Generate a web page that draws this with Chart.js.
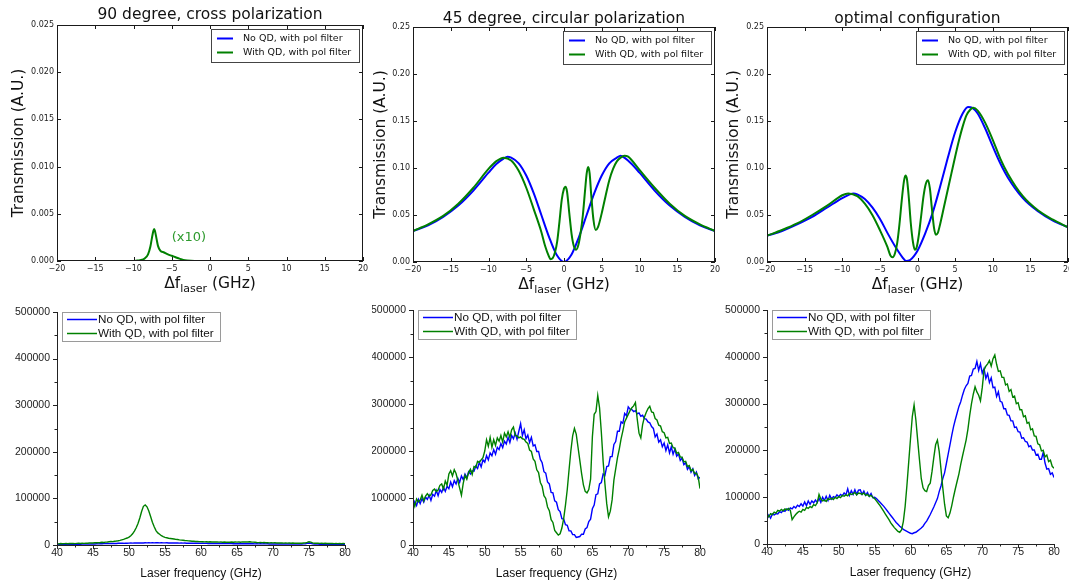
<!DOCTYPE html>
<html><head><meta charset="utf-8">
<script src="https://cdn.jsdelivr.net/npm/chart.js@4/dist/chart.umd.min.js"></script>
<style>
html,body{margin:0;padding:0;background:#fff;}
body{width:1069px;height:581px;position:relative;overflow:hidden;}
canvas{position:absolute;}
</style></head><body>
<canvas id="cA"></canvas><canvas id="cB"></canvas><canvas id="cC"></canvas>
<canvas id="cD"></canvas><canvas id="cE"></canvas><canvas id="cF"></canvas>
<script>
// ---------------- DATA ----------------
const legendLabels = ['No QD, with pol filter', 'With QD, with pol filter'];
const panelTitles = ['90 degree, cross polarization', '45 degree, circular polarization', 'optimal configuration'];

// Top-left: 90 degree (theory)
const cross_noQD_x = [-20, 20];
const cross_noQD_y = [0, 0];
const cross_QD_x = [-20, -10, -9.5, -9, -8.5, -8.1, -7.8, -7.6, -7.4, -7.3, -7.2, -7.0, -6.8, -6.5, -6, -5.5, -5, -4.5, -4, -3.5, -3, -2, 20];
const cross_QD_y = [0, 0, 0.00005, 0.0001, 0.0003, 0.0007, 0.0015, 0.0024, 0.0032, 0.0034, 0.0032, 0.0024, 0.0016, 0.0011, 0.0009, 0.0007, 0.00055, 0.0004, 0.00025, 0.00012, 0.00005, 0, 0];

// Top-middle: 45 degree (theory)
const circ_noQD_x = [-20, -18, -16, -14, -12, -10, -9, -8, -7.5, -7, -6, -5, -4, -3, -2, -1, 0, 1, 2, 3, 4, 5, 6, 7, 7.5, 8, 9, 10, 12, 14, 16, 18, 20];
const circ_noQD_y = [0.033, 0.039, 0.048, 0.060, 0.076, 0.095, 0.104, 0.110, 0.112, 0.111, 0.105, 0.092, 0.073, 0.050, 0.027, 0.008, 0.000, 0.008, 0.027, 0.050, 0.073, 0.092, 0.105, 0.111, 0.113, 0.111, 0.104, 0.095, 0.076, 0.060, 0.048, 0.039, 0.033];
const circ_QD_x = [-20, -18, -16, -14, -12, -10, -9, -8, -7, -6, -5, -4, -3, -2.5, -2, -1.8, -1.5, -1.2, -0.9, -0.6, -0.3, 0, 0.2, 0.4, 0.7, 1.0, 1.3, 1.6, 1.9, 2.2, 2.5, 2.8, 3.0, 3.2, 3.4, 3.6, 3.9, 4.2, 4.5, 5, 5.5, 6, 6.5, 7, 7.5, 8, 8.5, 9, 10, 12, 14, 16, 18, 20];
const circ_QD_y = [0.033, 0.040, 0.049, 0.062, 0.079, 0.099, 0.107, 0.111, 0.108, 0.097, 0.079, 0.056, 0.032, 0.017, 0.006, 0.003, 0.004, 0.010, 0.022, 0.043, 0.066, 0.078, 0.080, 0.075, 0.052, 0.030, 0.017, 0.013, 0.018, 0.031, 0.050, 0.077, 0.094, 0.101, 0.094, 0.072, 0.045, 0.034, 0.037, 0.052, 0.070, 0.087, 0.099, 0.107, 0.111, 0.113, 0.112, 0.108, 0.098, 0.079, 0.062, 0.049, 0.040, 0.033];

// Top-right: optimal (theory)
const opt_noQD_x = [-20, -18, -16, -14, -12, -10, -9, -8.5, -8, -7, -6, -5, -4, -3, -2, -1.5, -1, -0.5, 0, 1, 2, 3, 4, 5, 6, 6.7, 7.3, 8, 9, 10, 11, 12, 14, 16, 18, 20];
const opt_noQD_y = [0.028, 0.033, 0.040, 0.048, 0.058, 0.068, 0.072, 0.073, 0.072, 0.067, 0.058, 0.046, 0.031, 0.017, 0.005, 0.001, 0.002, 0.006, 0.012, 0.030, 0.052, 0.080, 0.110, 0.138, 0.158, 0.165, 0.164, 0.158, 0.142, 0.123, 0.105, 0.090, 0.068, 0.054, 0.044, 0.037];
const opt_QD_x = [-20, -18, -16, -14, -12, -10, -9.2, -8, -7, -6, -5, -4, -3.6, -3.3, -3.0, -2.7, -2.4, -2.1, -1.8, -1.6, -1.4, -1.15, -0.9, -0.6, -0.35, -0.1, 0.2, 0.5, 0.8, 1.1, 1.4, 1.65, 1.9, 2.2, 2.45, 2.7, 3.0, 3.5, 4, 4.5, 5, 5.5, 6, 6.5, 7, 7.4, 8, 9, 10, 11, 12, 14, 16, 18, 20];
const opt_QD_y = [0.028, 0.034, 0.041, 0.050, 0.060, 0.071, 0.073, 0.070, 0.062, 0.050, 0.034, 0.016, 0.007, 0.005, 0.009, 0.020, 0.040, 0.065, 0.086, 0.092, 0.088, 0.068, 0.042, 0.021, 0.013, 0.016, 0.030, 0.050, 0.070, 0.083, 0.087, 0.078, 0.058, 0.036, 0.029, 0.031, 0.040, 0.058, 0.076, 0.094, 0.112, 0.129, 0.144, 0.156, 0.162, 0.164, 0.161, 0.148, 0.130, 0.110, 0.094, 0.070, 0.055, 0.045, 0.037];

// Bottom row: measured, laser frequency grid (GHz)
const laserFreqGHz = [
40,40.25,40.5,40.75,41,41.25,41.5,41.75,42,42.25,42.5,42.75,43,43.25,43.5,43.75,44,44.25,44.5,44.75,
45,45.25,45.5,45.75,46,46.25,46.5,46.75,47,47.25,47.5,47.75,48,48.25,48.5,48.75,49,49.25,49.5,49.75,
50,50.25,50.5,50.75,51,51.25,51.5,51.75,52,52.25,52.5,52.75,53,53.25,53.5,53.75,54,54.25,54.5,54.75,
55,55.25,55.5,55.75,56,56.25,56.5,56.75,57,57.25,57.5,57.75,58,58.25,58.5,58.75,59,59.25,59.5,59.75,
60,60.25,60.5,60.75,61,61.25,61.5,61.75,62,62.25,62.5,62.75,63,63.25,63.5,63.75,64,64.25,64.5,64.75,
65,65.25,65.5,65.75,66,66.25,66.5,66.75,67,67.25,67.5,67.75,68,68.25,68.5,68.75,69,69.25,69.5,69.75,
70,70.25,70.5,70.75,71,71.25,71.5,71.75,72,72.25,72.5,72.75,73,73.25,73.5,73.75,74,74.25,74.5,74.75,
75,75.25,75.5,75.75,76,76.25,76.5,76.75,77,77.25,77.5,77.75,78,78.25,78.5,78.75,79,79.25,79.5,79.75,
80];

const meas90_noQD = [
1e3,1.2e3,0.9e3,1.1e3, 1.2e3,1e3,1.3e3,1.1e3, 1.3e3,1.5e3,1.2e3,1.6e3, 1.7e3,1.5e3,1.9e3,1.8e3, 2e3,2.2e3,1.9e3,2.3e3,
2.4e3,2.2e3,2.6e3,2.5e3, 2.8e3,2.6e3,3e3,2.9e3, 3.1e3,3e3,3.3e3,3.2e3, 3.5e3,3.3e3,3.7e3,3.6e3, 3.8e3,3.6e3,4e3,3.9e3,
4.1e3,4.3e3,4e3,4.4e3, 4.2e3,4.5e3,4.3e3,4.6e3, 4.4e3,4.7e3,4.5e3,4.8e3, 4.6e3,4.9e3,4.5e3,4.8e3, 4.7e3,4.5e3,4.8e3,4.6e3,
4.5e3,4.7e3,4.4e3,4.6e3, 4.3e3,4.5e3,4.2e3,4.4e3, 4.1e3,4.3e3,4e3,4.2e3, 3.9e3,4.1e3,3.8e3,4e3, 3.7e3,3.9e3,3.6e3,3.8e3,
3.5e3,3.7e3,3.4e3,3.6e3, 3.3e3,3.5e3,3.2e3,3.4e3, 3.2e3,3.4e3,3.1e3,3.3e3, 3e3,3.2e3,2.9e3,3.1e3, 2.9e3,3.1e3,2.8e3,3e3,
2.8e3,3e3,2.7e3,2.9e3, 2.7e3,2.9e3,2.6e3,2.8e3, 2.6e3,2.8e3,2.5e3,2.7e3, 2.5e3,2.7e3,2.4e3,2.6e3, 2.4e3,2.6e3,2.3e3,2.5e3,
2.3e3,2.5e3,2.2e3,2.4e3, 2.2e3,2.4e3,2.1e3,2.3e3, 2.1e3,2.3e3,2e3,2.2e3, 2e3,2.2e3,1.9e3,2.1e3, 2e3,2.3e3,2.8e3,3.5e3,
4.2e3,3.6e3,2.6e3,2e3, 1.8e3,2e3,1.7e3,1.9e3, 1.6e3,1.8e3,1.5e3,1.7e3, 1.4e3,1.6e3,1.3e3,1.5e3, 1.2e3,1.4e3,1.1e3,1.3e3,
1.1e3];
const meas90_QD = [
3e3,2.5e3,3.2e3,2.8e3, 3e3,3.3e3,2.7e3,3.1e3, 3.2e3,3.5e3,3e3,3.4e3, 3.6e3,3.2e3,3.8e3,3.5e3, 4e3,3.7e3,4.2e3,4.5e3,
4.3e3,4.8e3,5.1e3,4.9e3, 5.3e3,5.8e3,5.5e3,6.2e3, 6.5e3,7e3,7.4e3,7.2e3, 8e3,8.5e3,9.2e3,10e3, 11e3,12e3,13.5e3,15e3,
17e3,20e3,24e3,30e3, 37e3,46e3,58e3,72e3, 83e3,86e3,82e3,73e3, 61e3,49e3,39e3,31e3, 26e3,23e3,20e3,18e3,
16.5e3,15.5e3,14.5e3,14e3, 13.5e3,12.8e3,12e3,11.8e3, 11e3,10.5e3,10.3e3,9.6e3, 9.4e3,8.8e3,8.6e3,8.2e3, 8e3,7.6e3,7.8e3,7.2e3,
7e3,7.3e3,6.8e3,7.1e3, 6.6e3,6.9e3,6.4e3,6.7e3, 6.3e3,6.6e3,6.1e3,6.4e3, 6e3,6.3e3,5.8e3,6.2e3, 6e3,6.4e3,5.9e3,6.3e3,
6.1e3,6.5e3,6e3,6.6e3, 6.3e3,6.8e3,6.4e3,6.9e3, 6.5e3,6.2e3,5.8e3,5.4e3, 5.2e3,5.6e3,5e3,5.3e3, 4.8e3,5.1e3,4.6e3,4.9e3,
4.5e3,4.7e3,4.3e3,4.6e3, 4.2e3,4.5e3,4e3,4.3e3, 4e3,4.3e3,3.9e3,4.2e3, 3.8e3,4.1e3,3.7e3,4e3, 3.8e3,4.2e3,4.5e3,5.5e3,
7e3,6.2e3,4.5e3,3.8e3, 3.6e3,3.9e3,3.4e3,3.7e3, 3.3e3,3.6e3,3.2e3,3.5e3, 3.1e3,3.4e3,3e3,3.3e3, 3e3,3.2e3,2.8e3,3.1e3,
2.9e3];

const meas45_noQD = [
80e3,92e3,84e3,97e3, 88e3,99e3,91e3,102e3, 97e3,106e3,95e3,108e3, 104e3,116e3,105e3,118e3, 112e3,123e3,114e3,125e3,
120e3,134e3,124e3,137e3, 130e3,142e3,133e3,147e3, 139e3,151e3,143e3,156e3, 151e3,158e3,157e3,168e3, 163e3,176e3,166e3,181e3,
176e3,190e3,181e3,196e3, 190e3,203e3,193e3,208e3, 203e3,216e3,207e3,221e3, 215e3,229e3,218e3,233e3, 226e3,238e3,225e3,242e3,
258e3,233e3,245e3,226e3, 234e3,218e3,229e3,211e3, 213e3,199e3,199e3,182e3, 175e3,156e3,153e3,134e3, 130e3,112e3,111e3,94e3,
91e3,75e3,71e3,56e3, 55e3,43e3,42e3,30e3, 30e3,22e3,22e3,16e3, 17e3,18e3,23e3,23e3, 34e3,37e3,50e3,55e3,
77e3,85e3,107e3,109e3, 130e3,133e3,151e3,148e3, 167e3,168e3,188e3,188e3, 214e3,220e3,242e3,242e3, 262e3,259e3,280e3,275e3,
294e3,289e3,288e3,284e3, 286e3,279e3,281e3,274e3, 276e3,269e3,268e3,262e3, 260e3,252e3,248e3,230e3, 236e3,219e3,224e3,209e3,
217e3,201e3,213e3,196e3, 209e3,193e3,204e3,189e3, 194e3,180e3,185e3,171e3, 175e3,161e3,167e3,155e3, 162e3,148e3,155e3,141e3,
144e3];
const meas45_QD = [
94e3,82e3,98e3,92e3, 96e3,106e3,94e3,104e3, 109e3,104e3,107e3,116e3, 119e3,114e3,117e3,127e3, 130e3,119e3,136e3,127e3,
151e3,158e3,147e3,160e3, 152e3,137e3,121e3,106e3, 131e3,148e3,140e3,154e3, 161e3,150e3,167e3,165e3, 178e3,176e3,181e3,186e3,
200e3,224e3,210e3,229e3, 208e3,224e3,212e3,228e3, 221e3,233e3,219e3,238e3, 230e3,241e3,229e3,245e3, 251e3,233e3,232e3,228e3,
230e3,226e3,225e3,219e3, 216e3,202e3,199e3,183e3, 178e3,160e3,154e3,133e3, 125e3,105e3,99e3,81e3, 73e3,54e3,48e3,31e3,
26e3,21e3,24e3,36e3, 56e3,85e3,118e3,160e3, 200e3,232e3,248e3,236e3, 208e3,180e3,152e3,128e3, 114e3,111e3,118e3,140e3,
230e3,278e3,284e3,318e3, 292e3,240e3,178e3,130e3, 88e3,60e3,72e3,96e3, 138e3,162e3,186e3,204e3, 226e3,243e3,262e3,270e3,
278e3,286e3,292e3,296e3, 303e3,268e3,238e3,228e3, 256e3,272e3,282e3,290e3, 295e3,283e3,282e3,269e3, 266e3,255e3,253e3,241e3,
239e3,228e3,229e3,216e3, 217e3,207e3,206e3,195e3, 197e3,187e3,187e3,177e3, 178e3,167e3,169e3,158e3, 161e3,152e3,153e3,145e3,
120e3];

const measOpt_noQD = [
53e3,62e3,55e3,64e3, 62e3,65e3,64e3,69e3, 67e3,72e3,70e3,75e3, 72e3,77e3,75e3,80e3, 77e3,83e3,80e3,86e3,
81e3,90e3,82e3,92e3, 85e3,92e3,88e3,94e3, 89e3,98e3,89e3,100e3, 93e3,102e3,93e3,104e3, 96e3,101e3,99e3,105e3,
101e3,106e3,103e3,109e3, 105e3,118e3,104e3,114e3, 106e3,116e3,106e3,115e3, 116e3,106e3,113e3,104e3, 110e3,102e3,108e3,99e3,
100e3,97e3,93e3,89e3, 85e3,81e3,76e3,71e3, 66e3,61e3,56e3,51e3, 46e3,42e3,38e3,35e3, 31e3,29e3,27e3,25e3,
23e3,22e3,24e3,25e3, 28e3,31e3,34e3,38e3, 44e3,49e3,56e3,63e3, 71e3,79e3,88e3,97e3, 112e3,124e3,140e3,152e3,
172e3,192e3,212e3,232e3, 251e3,266e3,280e3,294e3, 304e3,318e3,330e3,338e3, 343e3,359e3,360e3,374e3, 375e3,390e3,371e3,385e3,
365e3,375e3,354e3,364e3, 345e3,355e3,334e3,335e3, 315e3,325e3,305e3,303e3, 289e3,289e3,276e3,275e3, 263e3,263e3,249e3,250e3,
240e3,239e3,226e3,227e3, 219e3,218e3,208e3,210e3, 201e3,201e3,190e3,192e3, 181e3,181e3,196e3,173e3, 160e3,161e3,149e3,152e3,
142e3];
const measOpt_QD = [
62e3,58e3,65e3,63e3, 68e3,66e3,72e3,70e3, 74e3,71e3,75e3,73e3, 76e3,72e3,52e3,58e3, 63e3,67e3,70e3,68e3,
74e3,72e3,78e3,76e3, 80e3,78e3,84e3,82e3, 88e3,106e3,96e3,92e3, 94e3,91e3,97e3,95e3, 98e3,95e3,100e3,97e3,
101e3,99e3,104e3,102e3, 105e3,103e3,108e3,106e3, 107e3,110e3,105e3,109e3, 108e3,106e3,109e3,104e3, 106e3,102e3,104e3,100e3,
97e3,92e3,87e3,82e3, 76e3,70e3,64e3,58e3, 52e3,45e3,40e3,35e3, 31e3,27e3,25e3,30e3, 48e3,80e3,125e3,175e3,
225e3,272e3,297e3,265e3, 222e3,180e3,140e3,120e3, 114e3,112e3,125e3,130e3, 155e3,185e3,212e3,222e3, 198e3,160e3,120e3,85e3,
60e3,56e3,66e3,82e3, 101e3,118e3,134e3,150e3, 170e3,188e3,205e3,222e3, 245e3,275e3,300e3,320e3, 336e3,325e3,318e3,306e3,
334e3,372e3,380e3,385e3, 392e3,380e3,396e3,404e3, 384e3,369e3,370e3,356e3, 356e3,340e3,342e3,326e3, 330e3,314e3,316e3,300e3,
302e3,287e3,287e3,272e3, 274e3,258e3,260e3,244e3, 246e3,231e3,230e3,214e3, 212e3,199e3,200e3,186e3, 190e3,176e3,179e3,166e3,
162e3];

// ---------------- RENDERING ----------------
const BLUE = '#0000ff', GREEN = '#008000';
const zip = (xs, ys) => xs.map((x, i) => ({x: x, y: ys[i]}));
const uminus = v => (v < 0 ? '\u2212' + Math.abs(v) : String(v));

const decor = {
  id: 'decor',
  afterDraw(chart, args, o) {
    const ctx = chart.ctx, a = chart.chartArea, xs = chart.scales.x, ys = chart.scales.y;
    const L = Math.round(a.left), R = Math.round(a.right), T = Math.round(a.top), B = Math.round(a.bottom);
    const seg = (x1, y1, x2, y2) => { ctx.beginPath(); ctx.moveTo(x1, y1); ctx.lineTo(x2, y2); ctx.stroke(); };
    ctx.save();
    if (o.style === 'mpl') {
      ctx.strokeStyle = '#1a1a1a'; ctx.lineWidth = 1;
      ctx.strokeRect(L + 0.5, T + 0.5, R - L - 1, B - T - 1);
      xs.ticks.forEach(t => { const p = Math.round(xs.getPixelForValue(t.value)) + 0.5; seg(p, B, p, B - 4); seg(p, T, p, T + 4); });
      ys.ticks.forEach(t => { const p = Math.round(ys.getPixelForValue(t.value)) + 0.5; seg(L, p, L + 4, p); seg(R, p, R - 4, p); });
      ctx.fillStyle = '#111'; ctx.font = '15.5px "DejaVu Sans"'; ctx.textAlign = 'center'; ctx.textBaseline = 'middle';
      ctx.fillText(o.title, (L + R) / 2, T + o.titleDy);
      ctx.save(); ctx.translate(L + o.ylabelDx, (T + B) / 2); ctx.rotate(-Math.PI / 2);
      ctx.fillText('Transmission (A.U.)', 0, 0); ctx.restore();
      const f1 = '15.5px "DejaVu Sans"', f2 = '11px "DejaVu Sans"';
      ctx.font = f1; const w1 = ctx.measureText('\u0394f').width, w3 = ctx.measureText(' (GHz)').width;
      ctx.font = f2; const w2 = ctx.measureText('laser').width;
      let sx = (L + R) / 2 - (w1 + w2 + w3) / 2; const base = B + 27;
      ctx.textAlign = 'left'; ctx.textBaseline = 'alphabetic';
      ctx.font = f1; ctx.fillText('\u0394f', sx, base); sx += w1;
      ctx.font = f2; ctx.fillText('laser', sx, base + 4); sx += w2;
      ctx.font = f1; ctx.fillText(' (GHz)', sx, base);
      const bx = R - 152, by = T + 4;
      ctx.fillStyle = '#fff'; ctx.fillRect(bx, by, 148, 33);
      ctx.strokeStyle = '#444'; ctx.lineWidth = 1; ctx.strokeRect(bx + 0.5, by + 0.5, 148, 33);
      ctx.font = '9.5px "DejaVu Sans"'; ctx.textBaseline = 'middle'; ctx.fillStyle = '#111';
      [BLUE, GREEN].forEach((c, i) => {
        const ry = by + 9.5 + i * 14;
        ctx.strokeStyle = c; ctx.lineWidth = 2; seg(bx + 6, ry, bx + 22, ry);
        ctx.fillText(legendLabels[i], bx + 32, ry);
      });
      if (o.note) {
        ctx.fillStyle = '#2e9a2e'; ctx.font = '13px "DejaVu Sans"'; ctx.textAlign = 'left'; ctx.textBaseline = 'middle';
        ctx.fillText(o.note.text, xs.getPixelForValue(o.note.x), ys.getPixelForValue(o.note.y));
      }
    } else {
      ctx.strokeStyle = '#222'; ctx.lineWidth = 1;
      seg(L + 0.5, T, L + 0.5, B + 1); seg(L, B + 0.5, R + 0.5, B + 0.5);
      for (let k = 0; xs.min + k * 2.5 <= xs.max + 1e-9; k++) {
        const v = xs.min + k * 2.5, p = Math.round(xs.getPixelForValue(v)) + 0.5;
        seg(p, B, p, B + (k % 2 === 0 ? 4 : 2.5));
      }
      for (let k = 0; ys.min + k * 50000 <= ys.max + 1e-9; k++) {
        const v = ys.min + k * 50000, p = Math.round(ys.getPixelForValue(v)) + 0.5;
        seg(L, p, L - (k % 2 === 0 ? 4 : 2.5), p);
      }
      ctx.fillStyle = '#111'; ctx.font = '12px "Liberation Sans"'; ctx.textAlign = 'center'; ctx.textBaseline = 'middle';
      ctx.fillText('Laser frequency (GHz)', (L + R) / 2, B + 29);
      const bx = L + 5, by = T;
      ctx.fillStyle = '#fff'; ctx.fillRect(bx, by, 158, 29);
      ctx.strokeStyle = '#9a9a9a'; ctx.lineWidth = 1; ctx.strokeRect(bx + 0.5, by + 0.5, 158, 29);
      ctx.font = '11.7px "Liberation Sans"'; ctx.textAlign = 'left'; ctx.fillStyle = '#111';
      [BLUE, GREEN].forEach((c, i) => {
        const ry = by + 7.5 + i * 14;
        ctx.strokeStyle = c; ctx.lineWidth = 1.5; seg(bx + 5, ry, bx + 35, ry);
        ctx.fillText(legendLabels[i], bx + 36, ry);
      });
    }
    ctx.restore();
  }
};

function makePanel(id, cv, plot, cfg) {
  const el = document.getElementById(id);
  el.width = cv.w; el.height = cv.h;
  el.style.left = cv.x + 'px'; el.style.top = cv.y + 'px';
  el.style.width = cv.w + 'px'; el.style.height = cv.h + 'px';
  const Lw = plot.l - cv.x, Tp = plot.t - cv.y, Rp = cv.x + cv.w - plot.r, Bh = cv.y + cv.h - plot.b;
  const mpl = cfg.style === 'mpl';
  const tickFont = mpl ? {family: 'DejaVu Sans', size: 8} : {family: 'Liberation Sans', size: 10.5};
  new Chart(el, {
    type: 'line',
    data: {datasets: cfg.datasets.map((d, i) => ({
      label: legendLabels[i], data: d, borderColor: i ? GREEN : BLUE, backgroundColor: i ? GREEN : BLUE,
      borderWidth: mpl ? 2 : 1.4, pointRadius: 0, fill: false, order: i ? 0 : 1,
      cubicInterpolationMode: mpl ? 'monotone' : 'default', tension: 0
    }))},
    options: {
      responsive: false, animation: false, devicePixelRatio: 1,
      layout: {padding: {left: 0, top: Tp, right: Rp, bottom: 0}},
      plugins: {legend: {display: false}, tooltip: {enabled: false}, decor: cfg.decor},
      scales: {
        x: {type: 'linear', min: cfg.xmin, max: cfg.xmax,
          ticks: {stepSize: 5, autoSkip: false, maxRotation: 0, padding: mpl ? 3 : 2, font: tickFont, color: '#222', callback: v => uminus(v)},
          grid: {display: false, drawTicks: false}, border: {display: false},
          afterFit: s => { s.height = Bh; s.paddingLeft = 0; s.paddingRight = 0; }},
        y: {type: 'linear', min: 0, max: cfg.ymax,
          ticks: {stepSize: cfg.ystep, autoSkip: false, padding: mpl ? 3 : 7, font: tickFont, color: '#222', callback: cfg.yfmt},
          grid: {display: false, drawTicks: false}, border: {display: false},
          afterFit: s => { s.width = Lw; s.paddingTop = 0; s.paddingBottom = 0; }}
      }
    },
    plugins: [decor]
  });
}

makePanel('cA', {x: 0, y: 0, w: 372, h: 296}, {l: 57, t: 25, r: 363, b: 261}, {
  style: 'mpl', xmin: -20, xmax: 20, ymax: 0.025, ystep: 0.005, yfmt: v => v.toFixed(3),
  datasets: [zip(cross_noQD_x, cross_noQD_y), zip(cross_QD_x, cross_QD_y)],
  decor: {style: 'mpl', title: panelTitles[0], titleDy: -10, ylabelDx: -38, note: {text: '(x10)', x: -5, y: 0.0025}}
});
makePanel('cB', {x: 372, y: 0, w: 352, h: 296}, {l: 413, t: 27, r: 715, b: 262}, {
  style: 'mpl', xmin: -20, xmax: 20, ymax: 0.25, ystep: 0.05, yfmt: v => v.toFixed(2),
  datasets: [zip(circ_noQD_x, circ_noQD_y), zip(circ_QD_x, circ_QD_y)],
  decor: {style: 'mpl', title: panelTitles[1], titleDy: -8, ylabelDx: -32}
});
makePanel('cC', {x: 724, y: 0, w: 345, h: 296}, {l: 767, t: 27, r: 1068, b: 262}, {
  style: 'mpl', xmin: -20, xmax: 20, ymax: 0.25, ystep: 0.05, yfmt: v => v.toFixed(2),
  datasets: [zip(opt_noQD_x, opt_noQD_y), zip(opt_QD_x, opt_QD_y)],
  decor: {style: 'mpl', title: panelTitles[2], titleDy: -8, ylabelDx: -33}
});
makePanel('cD', {x: 0, y: 296, w: 372, h: 285}, {l: 57, t: 312, r: 345, b: 545}, {
  style: 'origin', xmin: 40, xmax: 80, ymax: 500000, ystep: 100000, yfmt: v => String(v),
  datasets: [zip(laserFreqGHz, meas90_noQD), zip(laserFreqGHz, meas90_QD)],
  decor: {style: 'origin'}
});
makePanel('cE', {x: 372, y: 296, w: 352, h: 285}, {l: 413, t: 310, r: 700, b: 545}, {
  style: 'origin', xmin: 40, xmax: 80, ymax: 500000, ystep: 100000, yfmt: v => String(v),
  datasets: [zip(laserFreqGHz, meas45_noQD), zip(laserFreqGHz, meas45_QD)],
  decor: {style: 'origin'}
});
makePanel('cF', {x: 724, y: 296, w: 345, h: 285}, {l: 767, t: 310, r: 1054, b: 544}, {
  style: 'origin', xmin: 40, xmax: 80, ymax: 500000, ystep: 100000, yfmt: v => String(v),
  datasets: [zip(laserFreqGHz, measOpt_noQD), zip(laserFreqGHz, measOpt_QD)],
  decor: {style: 'origin'}
});
</script>
</body></html>
